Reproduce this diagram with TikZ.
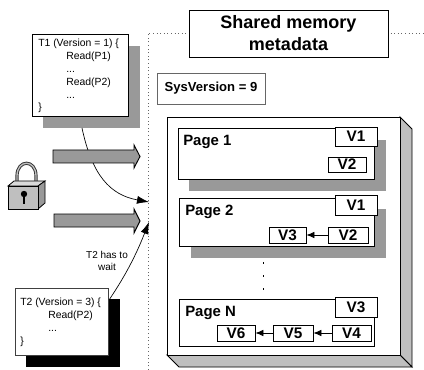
\documentclass[tikz,border=0pt]{standalone}
\usepackage{fontspec}
\setmainfont{Liberation Sans}
\usetikzlibrary{arrows.meta}
\definecolor{shadow}{gray}{0.6}
\definecolor{sidegray}{gray}{0.75}
\tikzset{
  box/.style={draw=black,fill=white,line width=0.7pt},
  softbox/.style={draw=black!60,fill=white,line width=0.6pt},
  vbox/.style={draw=black,fill=white,line width=0.7pt,inner sep=0pt,font=\bfseries\fontsize{11.5}{12}\selectfont},
  fat/.style={draw=black,fill=shadow,line width=0.7pt},
  code/.style={font=\fontsize{7.8}{9.6}\selectfont,anchor=north west,inner sep=0pt,align=left},
  pagelabel/.style={font=\bfseries\fontsize{11.2}{12}\selectfont,anchor=west,inner sep=0pt},
  link/.style={line width=0.6pt,-{Latex[length=6pt,width=5pt]}},
  wait/.style={line width=0.5pt,-{Latex[length=9pt,width=6pt]}},
}
\newcommand{\vb}[6]{\node[vbox,minimum width=#4*0.75pt-#2*0.75pt,minimum height=#5*0.75pt-#3*0.75pt] (#1) at ({(#2+#4)/2},{(#3+#5)/2}) {#6};}
\begin{document}
\begin{tikzpicture}[x=0.75pt,y=-0.75pt]
\useasboundingbox (0,0) rectangle (424,370);
\fill[white] (0,0) rectangle (424,370);
% dotted frame
\draw[black!60,dotted,line width=0.7pt] (148,370) -- (148,33) -- (424,33);
% T1
\fill[shadow] (43,46) rectangle (140,128);
\draw[box] (32,34) rectangle (128,116);
\node[code] (t1) at (38,39) {T1 (Version = 1) \{\\
\hspace*{21pt}Read(P1)\\
\hspace*{21pt}...\\
\hspace*{21pt}Read(P2)\\
\hspace*{21pt}...\\
\}};
\coordinate (t1out) at (82,128);
\coordinate (gate1) at (149,202);
\draw[wait] (t1out) .. controls (92,175) and (110,195) .. (gate1);
% fat arrows
\draw[fat] (53,150) -- (134,150) -- (134,145) -- (140,156.5) -- (134,168) -- (134,163) -- (53,163) -- cycle;
\draw[fat] (54,214) -- (134,214) -- (134,209) -- (140,221) -- (134,233) -- (134,227) -- (54,227) -- cycle;
% lock
\draw[line width=2.4pt,black!80] (17,184) -- (17,176) .. controls (17,159) and (36,159) .. (36,176) -- (36,184);
\draw[line width=1pt,black!25] (17,184) -- (17,176) .. controls (17,159) and (36,159) .. (36,176) -- (36,184);
\draw[fill=sidegray!60,line width=0.6pt] (8,186) -- (14,181) -- (45,181) -- (38,186) -- cycle;
\draw[fill=shadow,line width=0.6pt] (38,186) -- (45,181) -- (45,203) -- (38,209) -- cycle;
\draw[fill=sidegray,line width=0.7pt] (8,186) rectangle (38,209);
\fill[black] (24,194) circle (3.2);
\fill[black] (22.8,194) rectangle (25.2,204);
% T2
\fill[black] (26,299) rectangle (120,367);
\draw[box,draw=black!75] (15,288) rectangle (108,355);
\node[code] (t2) at (20,298) {T2 (Version = 3) \{\\
\hspace*{21pt}Read(P2)\\
\hspace*{21pt}...\\
\}};
\coordinate (t2out) at (109,300);
\coordinate (gate2) at (149,222);
\draw[wait] (t2out) .. controls (128,272) and (138,250) .. (gate2);
\node[font=\fontsize{7.5}{9}\selectfont,align=center,inner sep=0pt] (waitlabel) at (107,261) {T2 has to\\wait};
% title
\node[box,minimum width=149.25pt,minimum height=35.25pt,inner sep=0pt,align=center,font=\bfseries\fontsize{13.5}{16.5}\selectfont] (title) at (288.5,33.5) {Shared memory\\metadata};
\node[softbox,minimum width=81pt,minimum height=23.25pt,inner sep=0pt,font=\bfseries\fontsize{9.8}{11}\selectfont] (sys) at (211,88.5) {SysVersion = 9};
% big 3D box
\draw[fill=sidegray,line width=0.7pt] (400,117) -- (412,129) -- (412,367) -- (400,355) -- cycle;
\draw[fill=sidegray,line width=0.7pt] (167,355) -- (400,355) -- (412,367) -- (179,367) -- cycle;
\draw[box] (167,117) rectangle (400,355);
% page 1
\fill[shadow] (189,140) rectangle (386,191);
\draw[box] (178,128) rectangle (374,179);
\node[pagelabel] (p1) at (183,142) {Page 1};
\vb{p1a}{335}{127}{377}{146}{V1}
\vb{p1b}{328}{157}{366}{172}{V2}
% page 2
\fill[shadow] (191,209) rectangle (386,258);
\draw[box] (179,198) rectangle (374,246);
\node[pagelabel] (p2) at (185,212) {Page 2};
\vb{p2a}{335}{195}{377}{215}{V1}
\vb{p2c}{269}{227}{306}{243}{V3}
\vb{p2b}{328}{227}{368}{243}{V2}
\draw[link] (p2b) -- (p2c);
% dots
\foreach \yy in {262,275,288} \fill[black] (262.5,\yy) rectangle (264,\yy+1.5);
% page N
\draw[box] (179,299) rectangle (374,346);
\node[pagelabel] (pn) at (185,313) {Page N};
\vb{pna}{335}{297}{377}{317}{V3}
\vb{pnf}{217}{325}{255}{341}{V6}
\vb{pne}{273}{325}{313}{341}{V5}
\vb{pnd}{332}{325}{371}{341}{V4}
\draw[link] (pnd) -- (pne);
\draw[link] (pne) -- (pnf);
\end{tikzpicture}
\end{document}
